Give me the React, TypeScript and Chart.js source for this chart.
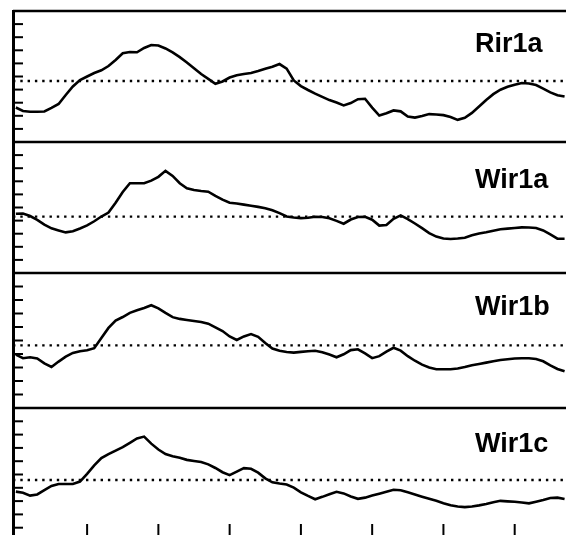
import React, { useEffect, useRef } from "react";
import { Chart, registerables } from "chart.js";

Chart.register(...registerables);

// residue positions (x axis)
const positions = [
  0, 5, 10, 15, 20, 25, 30, 35, 40, 45,
  50, 55, 60, 65, 70, 75, 80, 85, 90, 95,
  100, 105, 110, 115, 120, 125, 130, 135, 140, 145,
  150, 155, 160, 165, 170, 175, 180, 185, 190, 195,
  200, 205, 210, 215, 220, 225, 230, 235, 240, 245,
  250, 255, 260, 265, 270, 275, 280, 285, 290, 295,
  300, 305, 310, 315, 320, 325, 330, 335, 340, 345,
  350, 355, 360, 365, 370, 375, 380, 385,
];

const panelNames = ["Rir1a", "Wir1a", "Wir1b", "Wir1c"];

const rir1a = [
  2.63, 2.37, 2.31, 2.31, 2.33, 2.6, 2.9, 3.59, 4.24, 4.73,
  5.0, 5.27, 5.47, 5.8, 6.26, 6.77, 6.87, 6.85, 7.18, 7.4,
  7.37, 7.14, 6.84, 6.48, 6.07, 5.63, 5.19, 4.82, 4.45, 4.62,
  4.92, 5.09, 5.19, 5.27, 5.42, 5.59, 5.74, 5.95, 5.6, 4.7,
  4.27, 3.97, 3.69, 3.44, 3.2, 3.01, 2.79, 2.97, 3.27, 3.3,
  2.63, 2.02, 2.2, 2.41, 2.34, 1.95, 1.86, 1.98, 2.13, 2.1,
  2.05, 1.9, 1.69, 1.85, 2.22, 2.71, 3.21, 3.65, 3.99, 4.21,
  4.37, 4.5, 4.47, 4.35, 4.08, 3.79, 3.57, 3.47,
];

const wir1a = [
  4.52, 4.54, 4.35, 4.06, 3.7, 3.41, 3.25, 3.1, 3.19, 3.4,
  3.63, 3.95, 4.31, 4.61, 5.37, 6.18, 6.85, 6.85, 6.85, 7.05,
  7.34, 7.8, 7.41, 6.85, 6.47, 6.33, 6.26, 6.21, 5.89, 5.6,
  5.36, 5.3, 5.22, 5.14, 5.05, 4.95, 4.79, 4.57, 4.31, 4.24,
  4.19, 4.22, 4.29, 4.27, 4.18, 3.98, 3.76, 4.08, 4.27, 4.29,
  4.07, 3.62, 3.66, 4.14, 4.4, 4.12, 3.78, 3.42, 3.05, 2.78,
  2.63, 2.6, 2.63, 2.69, 2.88, 3.02, 3.11, 3.23, 3.34, 3.39,
  3.44, 3.48, 3.47, 3.43, 3.25, 2.94, 2.62, 2.62,
];

const wir1b = [
  3.96, 3.69, 3.76, 3.67, 3.31, 3.04, 3.44, 3.8, 4.08, 4.21,
  4.28, 4.43, 5.19, 5.93, 6.47, 6.74, 7.05, 7.24, 7.41, 7.61,
  7.38, 7.04, 6.73, 6.6, 6.52, 6.44, 6.37, 6.25, 5.97, 5.7,
  5.3, 5.04, 5.3, 5.48, 5.27, 4.81, 4.41, 4.24, 4.15, 4.1,
  4.16, 4.2, 4.24, 4.13, 3.96, 3.76, 3.98, 4.29, 4.35, 4.04,
  3.69, 3.84, 4.17, 4.46, 4.25, 3.84, 3.5, 3.21, 3.0, 2.87,
  2.87, 2.87, 2.93, 3.04, 3.17, 3.26, 3.36, 3.47, 3.56, 3.61,
  3.67, 3.68, 3.68, 3.63, 3.46, 3.16, 2.89, 2.72,
];

const wir1c = [
  3.71, 3.63, 3.41, 3.5, 3.82, 4.14, 4.29, 4.29, 4.29, 4.47,
  5.05, 5.68, 6.23, 6.53, 6.8, 7.06, 7.38, 7.71, 7.85, 7.32,
  6.88, 6.54, 6.38, 6.26, 6.1, 6.02, 5.94, 5.76, 5.49, 5.17,
  4.95, 5.22, 5.48, 5.43, 5.14, 4.71, 4.41, 4.32, 4.25, 4.01,
  3.66, 3.39, 3.14, 3.32, 3.52, 3.7, 3.58, 3.35, 3.17, 3.26,
  3.42, 3.56, 3.71, 3.85, 3.81, 3.66, 3.5, 3.33, 3.17, 3.02,
  2.84, 2.68, 2.59, 2.55, 2.6, 2.68, 2.78, 2.92, 3.02, 2.98,
  2.95, 2.89, 2.83, 2.95, 3.08, 3.23, 3.26, 3.16,
];

// dotted reference level in each panel
const baselines = [4.66, 4.3, 4.64, 4.59];

const xTickValues = [50, 100, 150, 200, 250, 300, 350];
const yTickValues = [1, 2, 3, 4, 5, 6, 7, 8, 9];

const X_MIN = -2;
const X_MAX = 386;

export default function App() {
  const ref = useRef<HTMLCanvasElement | null>(null);

  useEffect(() => {
    if (!ref.current) return;
    const series = [rir1a, wir1a, wir1b, wir1c];
    const axisIds = ["yA", "yB", "yC", "yD"];
    const stackWeights = [131, 131, 135, 133];
    const labelOffsets = [41, 46, 42, 44];

    const datasets: any[] = [];
    series.forEach((vals, i) => {
      datasets.push({
        label: panelNames[i],
        data: positions.map((p, k) => ({ x: p, y: vals[k] })),
        yAxisID: axisIds[i],
        borderColor: "#000",
        borderWidth: 2.6,
        pointRadius: 0,
        tension: 0,
        fill: false,
      });
      datasets.push({
        label: panelNames[i] + " level",
        data: [
          { x: X_MIN, y: baselines[i] },
          { x: X_MAX, y: baselines[i] },
        ],
        yAxisID: axisIds[i],
        borderColor: "#000",
        borderWidth: 2.4,
        borderDash: [2.4, 4.9],
        pointRadius: 0,
        fill: false,
      });
    });

    const scales: any = {
      x: { type: "linear", min: X_MIN, max: X_MAX, display: false },
    };
    [3, 2, 1, 0].forEach((i) => {
      scales[axisIds[i]] = {
        type: "linear",
        position: "left",
        stack: "panels",
        stackWeight: stackWeights[i],
        weight: 4 - i,
        min: 0,
        max: 10,
        ticks: { display: false, stepSize: 1 },
        grid: { display: true, drawOnChartArea: false, drawTicks: false },
        border: { display: true, width: 3, color: "#000" },
        afterFit: (s: any) => {
          s.width = 0;
        },
      };
    });

    const decor = {
      id: "panelDecor",
      afterDatasetsDraw(chart: any) {
        const { ctx, chartArea } = chart;
        const xs = chart.scales.x;
        ctx.save();
        ctx.strokeStyle = "#000";
        ctx.fillStyle = "#000";
        axisIds.forEach((id, i) => {
          const s = chart.scales[id];
          const top = s.getPixelForValue(10);
          ctx.lineWidth = 2.5;
          ctx.beginPath();
          ctx.moveTo(chartArea.left, top);
          ctx.lineTo(chartArea.right, top);
          ctx.stroke();
          ctx.lineWidth = 2;
          yTickValues.forEach((v) => {
            const py = s.getPixelForValue(v);
            ctx.beginPath();
            ctx.moveTo(chartArea.left, py);
            ctx.lineTo(chartArea.left + 10, py);
            ctx.stroke();
          });
          ctx.font = 'bold 27px "Liberation Sans", Arial, sans-serif';
          ctx.textAlign = "left";
          ctx.textBaseline = "alphabetic";
          ctx.fillText(panelNames[i], chartArea.left + 462, top + labelOffsets[i]);
        });
        ctx.lineWidth = 2;
        xTickValues.forEach((v) => {
          const px = xs.getPixelForValue(v);
          ctx.beginPath();
          ctx.moveTo(px, chartArea.bottom);
          ctx.lineTo(px, chartArea.bottom - 17);
          ctx.stroke();
        });
        ctx.restore();
      },
    };

    const chart = new Chart(ref.current, {
      type: "line",
      data: { datasets },
      options: {
        responsive: false,
        maintainAspectRatio: false,
        animation: false,
        events: [],
        layout: { padding: { left: 13, top: 11, right: 0, bottom: 1 } },
        plugins: { legend: { display: false }, tooltip: { enabled: false } },
        scales,
      },
      plugins: [decor],
    } as any);

    return () => chart.destroy();
  }, []);

  return (
    <div
      style={{
        position: "absolute",
        left: 0,
        top: 0,
        width: 566,
        height: 535,
        overflow: "hidden",
        background: "#fff",
      }}
    >
      <canvas ref={ref} width={566} height={542} style={{ display: "block" }} />
    </div>
  );
}
